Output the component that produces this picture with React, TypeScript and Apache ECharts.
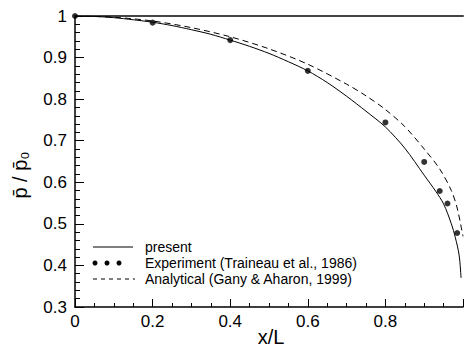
import React, { useEffect, useRef } from "react";
import * as echarts from "echarts";

const presentX = [0, 0.05, 0.1, 0.15, 0.2, 0.25, 0.3, 0.35, 0.4, 0.45, 0.5, 0.55, 0.6, 0.65, 0.7, 0.75, 0.8, 0.85, 0.9, 0.93, 0.95, 0.97, 0.98, 0.99, 0.995];
const presentY = [1, 0.999, 0.996, 0.991, 0.985, 0.977, 0.967, 0.956, 0.942, 0.927, 0.91, 0.89, 0.868, 0.84, 0.807, 0.771, 0.733, 0.682, 0.617, 0.578, 0.548, 0.5, 0.468, 0.425, 0.37];

const analyticalX = [0, 0.1, 0.2, 0.3, 0.4, 0.5, 0.6, 0.7, 0.75, 0.8, 0.85, 0.9, 0.94, 0.97, 0.985, 1.0];
const analyticalY = [1, 0.997, 0.988, 0.972, 0.95, 0.921, 0.884, 0.836, 0.808, 0.775, 0.734, 0.68, 0.632, 0.58, 0.538, 0.47];

const experimentX = [0, 0.2, 0.4, 0.6, 0.8, 0.9, 0.94, 0.96, 0.985];
const experimentY = [1, 0.984, 0.942, 0.868, 0.744, 0.649, 0.579, 0.549, 0.478];

const legendLabels = [
  "present",
  "Experiment (Traineau et al., 1986)",
  "Analytical (Gany & Aharon, 1999)",
];
const xName = "x/L";
const yName = "p\u0304 / p\u0304\u2080";

const FONT = "'Liberation Sans', Arial, Helvetica, sans-serif";

export default function App() {
  const ref = useRef<HTMLDivElement>(null);
  useEffect(() => {
    if (!ref.current) return;
    const chart = echarts.init(ref.current, null, { renderer: "svg" });
    const zip = (xs: number[], ys: number[]) => xs.map((x, i) => [x, ys[i]]);
    const legendTop = 247;
    const rowGap = 16;
    chart.setOption({
      animation: false,
      backgroundColor: "#fff",
      grid: { left: 75, top: 16, width: 392, height: 291, containLabel: false },
      xAxis: [
        {
          type: "value",
          min: 0,
          max: 1,
          interval: 0.2,
          axisLine: { show: true, lineStyle: { color: "#000", width: 1.5 } },
          axisTick: { show: true, inside: true, length: 8, lineStyle: { color: "#000" } },
          minorTick: { show: true, splitNumber: 4, length: 4, lineStyle: { color: "#000" } },
          splitLine: { show: false },
          axisLabel: {
            color: "#000",
            fontSize: 17,
            fontFamily: FONT,
            margin: 6,
            formatter: (v: number) => (v >= 1 ? "" : v === 0 ? "0" : v.toFixed(1)),
          },
        },
        {
          type: "value",
          position: "top",
          min: 0,
          max: 1,
          axisLine: { show: true, lineStyle: { color: "#444", width: 2 } },
          axisTick: { show: false },
          axisLabel: { show: false },
          splitLine: { show: false },
        },
      ],
      yAxis: {
        type: "value",
        min: 0.3,
        max: 1,
        interval: 0.1,
        axisLine: { show: true, lineStyle: { color: "#000", width: 1.5 } },
        axisTick: { show: true, inside: true, length: 9, lineStyle: { color: "#000" } },
        minorTick: { show: true, splitNumber: 5, length: 5, lineStyle: { color: "#000" } },
        splitLine: { show: false },
        axisLabel: {
          color: "#000",
          fontSize: 17,
          fontFamily: FONT,
          margin: 8,
          formatter: (v: number) => (Math.abs(v - 1) < 1e-9 ? "1" : v.toFixed(1)),
        },
      },
      series: [
        {
          name: legendLabels[0],
          type: "line",
          data: zip(presentX, presentY),
          smooth: 0.3,
          symbol: "none",
          lineStyle: { color: "#000", width: 1 },
        },
        {
          name: legendLabels[1],
          type: "scatter",
          data: zip(experimentX, experimentY),
          symbol: "circle",
          symbolSize: 6,
          itemStyle: { color: "#000" },
        },
        {
          name: legendLabels[2],
          type: "line",
          data: zip(analyticalX, analyticalY),
          smooth: 0.3,
          symbol: "none",
          lineStyle: { color: "#000", width: 1, type: [6, 4] },
        },
      ],
      graphic: [
        { type: "line", shape: { x1: 93, y1: legendTop, x2: 133, y2: legendTop }, style: { stroke: "#000", lineWidth: 1 } },
        { type: "circle", shape: { cx: 95, cy: legendTop + rowGap, r: 2.5 }, style: { fill: "#000" } },
        { type: "circle", shape: { cx: 107, cy: legendTop + rowGap, r: 2.5 }, style: { fill: "#000" } },
        { type: "circle", shape: { cx: 119, cy: legendTop + rowGap, r: 2.5 }, style: { fill: "#000" } },
        { type: "line", shape: { x1: 93, y1: legendTop + 2 * rowGap, x2: 135, y2: legendTop + 2 * rowGap }, style: { stroke: "#000", lineWidth: 1, lineDash: [4, 4] } },
        ...legendLabels.map((t, i) => ({
          type: "text",
          x: 145,
          y: legendTop + i * rowGap,
          style: { text: t, fill: "#000", font: `14px ${FONT}`, verticalAlign: "middle" },
        })),
        {
          type: "text",
          x: 271,
          y: 337,
          style: { text: xName, fill: "#000", font: `20px ${FONT}`, align: "center", verticalAlign: "middle" },
        },
        {
          type: "text",
          x: 20,
          y: 175,
          rotation: Math.PI / 2,
          style: { text: yName, fill: "#000", font: `20px ${FONT}`, align: "center", verticalAlign: "middle" },
        },
      ],
    });
    return () => chart.dispose();
  }, []);
  return <div ref={ref} style={{ position: "absolute", left: 0, top: 0, width: 466, height: 347 }} />;
}
